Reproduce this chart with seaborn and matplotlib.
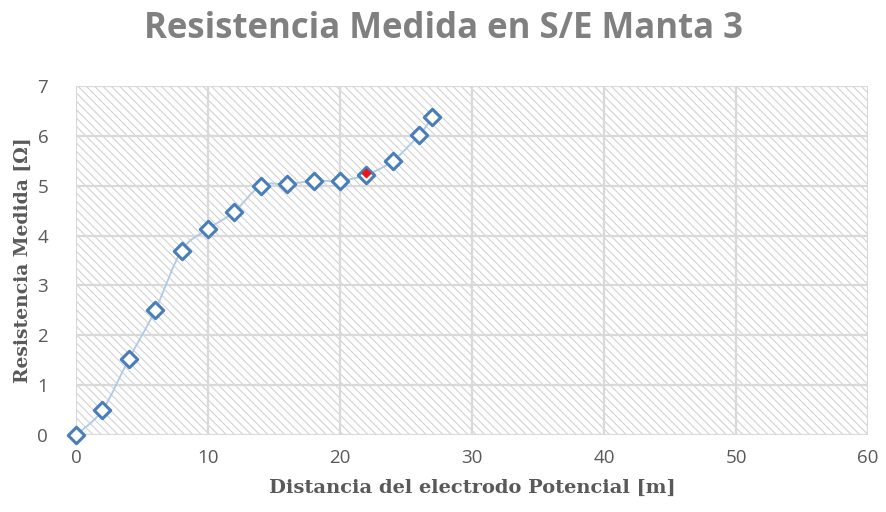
import numpy as np
import pandas as pd
import seaborn as sns
import matplotlib
matplotlib.use("Agg")
import matplotlib.pyplot as plt
from matplotlib.path import Path
from matplotlib.patches import PathPatch, Rectangle

# Measured resistance vs. potential electrode distance
distancia = [0, 2, 4, 6, 8, 10, 12, 14, 16, 18, 20, 22, 24, 26, 27]
resistencia = [0.0, 0.5, 1.52, 2.5, 3.7, 4.13, 4.48, 5.0, 5.03, 5.1, 5.1, 5.22, 5.5, 6.02, 6.37]
punto_dist = [22]
punto_res = [5.25]

x_ticks = [0, 10, 20, 30, 40, 50, 60]
y_ticks = [0, 1, 2, 3, 4, 5, 6, 7]

df = pd.DataFrame({"d": distancia, "r": resistencia})
df_pt = pd.DataFrame({"d": punto_dist, "r": punto_res})

sns.set_theme(style="white")
plt.rcParams["font.family"] = ["Open Sans", "DejaVu Sans"]

fig = plt.figure(figsize=(8.86, 5.12), dpi=100)
ax = fig.add_axes([0.0858, 0.1504, 0.8939, 0.6816])

ax.set_xlim(0, 60)
ax.set_ylim(0, 7)

# hatched plot area
plt.rcParams["hatch.color"] = "#d2d2d2"
plt.rcParams["hatch.linewidth"] = 0.8
ax.add_patch(Rectangle((0, 0), 1, 1, transform=ax.transAxes, facecolor="white",
                       edgecolor="#d2d2d2", hatch="\\\\\\\\", linewidth=0, zorder=0))

for xv in x_ticks:
    ax.axvline(xv, color="#d9d9d9", lw=1.6, zorder=1)
for yv in y_ticks:
    ax.axhline(yv, color="#d9d9d9", lw=1.6, zorder=1)

# smoothed connecting line (Catmull-Rom as cubic Bezier segments)
pts = np.column_stack([distancia, resistencia]).astype(float)
verts = [tuple(pts[0])]
codes = [Path.MOVETO]
n = len(pts)
for i in range(n - 1):
    p0 = pts[i - 1] if i > 0 else pts[i]
    p1 = pts[i]
    p2 = pts[i + 1]
    p3 = pts[i + 2] if i + 2 < n else pts[i + 1]
    c1 = p1 + (p2 - p0) / 6.0
    c2 = p2 - (p3 - p1) / 6.0
    verts += [tuple(c1), tuple(c2), tuple(p2)]
    codes += [Path.CURVE4] * 3
ax.add_patch(PathPatch(Path(verts, codes), facecolor="none",
                       edgecolor="#b0c9e6", lw=1.3, zorder=2))

sns.scatterplot(data=df, x="d", y="r", ax=ax, marker="D", s=70,
                facecolor="white", edgecolor="#4a7ebb", linewidth=2.2, zorder=3,
                clip_on=False)
sns.scatterplot(data=df_pt, x="d", y="r", ax=ax, marker="D", s=22,
                color="#e8141c", edgecolor="#e8141c", linewidth=0.5, zorder=4)

ax.set_xticks(x_ticks)
ax.set_yticks(y_ticks)
ax.tick_params(axis="both", length=0, labelsize=13.5, labelcolor="#595959")
ax.tick_params(axis="x", pad=10)
ax.tick_params(axis="y", pad=20)
for s in ax.spines.values():
    s.set_visible(False)

ax.set_xlabel("Distancia del electrodo Potencial [m]", fontsize=14, fontweight="bold",
              color="#595959", family=["DejaVu Serif"], labelpad=9)
ax.set_ylabel("Resistencia Medida [Ω]", fontsize=13.5, fontweight="bold",
              color="#595959", family=["DejaVu Serif"], labelpad=4)

fig.suptitle("Resistencia Medida en S/E Manta 3", x=0.5, y=0.978, fontsize=25,
             fontweight="bold", color="#808080")

fig.savefig("out.png", dpi=100, facecolor="white")
